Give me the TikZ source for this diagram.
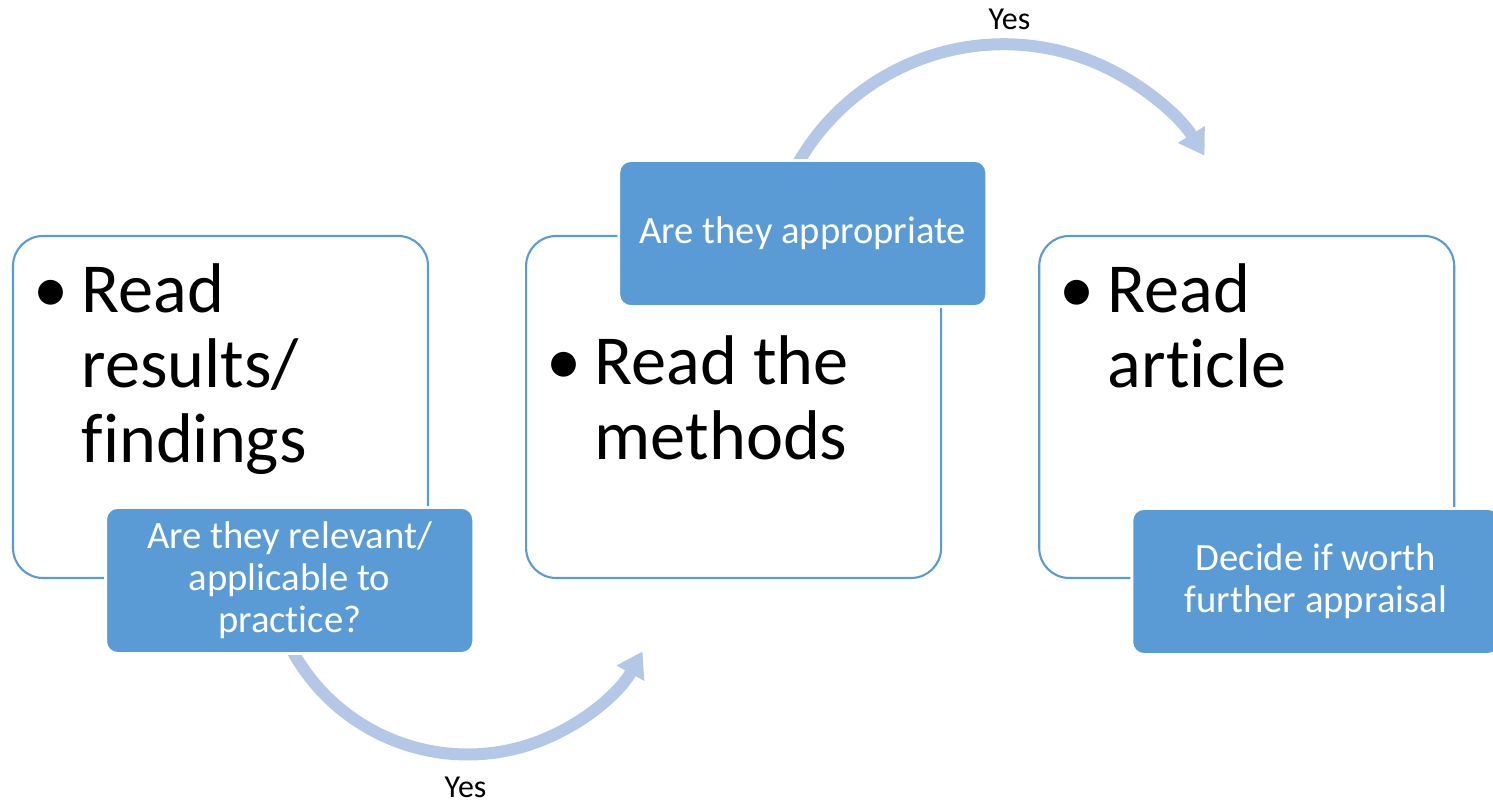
\documentclass[tikz,border=0pt]{standalone}
\usepackage{fontspec}
\setmainfont[Ligatures=NoCommon]{Carlito}
\usepackage{tikz}
\usepackage{xcolor}
\usetikzlibrary{positioning}
\usetikzlibrary{calc}
\usetikzlibrary{arrows.meta}
\usetikzlibrary{backgrounds}
\definecolor{stepblue}{RGB}{91, 155, 213}
\definecolor{flowblue}{RGB}{180, 199, 231}
\tikzstyle{stepface} = [
	draw=stepblue,
	line width=0.6pt,
	fill=white,
	rounded corners=0.3cm,
	minimum width=4.15cm,
	minimum height=3.42cm,
	inner sep=0pt
]
\tikzstyle{qface} = [
	draw=white,
	line width=0.8pt,
	fill=stepblue,
	rounded corners=0.12cm,
	minimum width=3.68cm,
	minimum height=1.46cm,
	inner sep=0pt,
	text=white,
	align=center,
	font=\fontsize{11}{12}\selectfont
]
\tikzstyle{steptext} = [
	anchor=base west,
	inner sep=0pt,
	font=\fontsize{20}{21.3}\selectfont
]
\tikzstyle{flow} = [
	flowblue,
	line width=0.12cm,
	-{Triangle[width=0.3cm,length=0.25cm]}
]
\tikzstyle{yeslabel} = [
	inner sep=0pt,
	black,
	font=\fontsize{9.1}{11}\selectfont
]
\newcommand{\stepitem}[1]{\makebox[0.48cm][l]{\textbullet}\begin{tabular}[t]{@{}l@{}}#1\end{tabular}}

\begin{document}
\begin{tikzpicture}[node distance=0.96cm]
	\useasboundingbox (0,0) rectangle (14.93,8.01);

	%
	% Step boxes
	\node[stepface] at (2.205,3.94) (results) {};
	\node[stepface, right=of results] (methods) {};
	\node[stepface, right=of methods] (article) {};

	\node[steptext] at ([xshift=0.21cm, yshift=-0.78cm]results.north west) (results_txt) {\stepitem{Read\\results/\\findings}};
	\node[steptext] at ([xshift=0.21cm, yshift=-1.50cm]methods.north west) (methods_txt) {\stepitem{Read the\\methods}};
	\node[steptext] at ([xshift=0.21cm, yshift=-0.78cm]article.north west) (article_txt) {\stepitem{Read\\article}};

	%
	% Question boxes
	\node[qface, anchor=north east] at ([xshift=0.46cm, yshift=0.73cm]results.south east) (q1) {Are they relevant/\\applicable to\\practice?};
	\node[qface, anchor=south east] at ([xshift=0.46cm, yshift=-0.73cm]methods.north east) (q2) {Are they appropriate};
	\node[qface, anchor=north east] at ([xshift=0.46cm, yshift=0.72cm]article.south east) (q3) {Decide if worth\\further appraisal};

	%
	% Arrows
	\coordinate (arcA) at ([xshift=-0.10cm, yshift=0.32cm]q1.south);
	\coordinate (arcB) at ([xshift=-0.14cm, yshift=-0.22cm]q2.north);
	\begin{scope}[on background layer]
		\draw[flow] (arcA) arc[start angle=200, end angle=331, radius=2cm]
			node[yeslabel, pos=0.53, below=0.17cm] (yes1) {Yes};
		\draw[flow] (arcB) arc[start angle=155, end angle=32, radius=2.37cm]
			node[yeslabel, pos=0.54, above=0.09cm] (yes2) {Yes};
	\end{scope}

\end{tikzpicture}
\end{document}
